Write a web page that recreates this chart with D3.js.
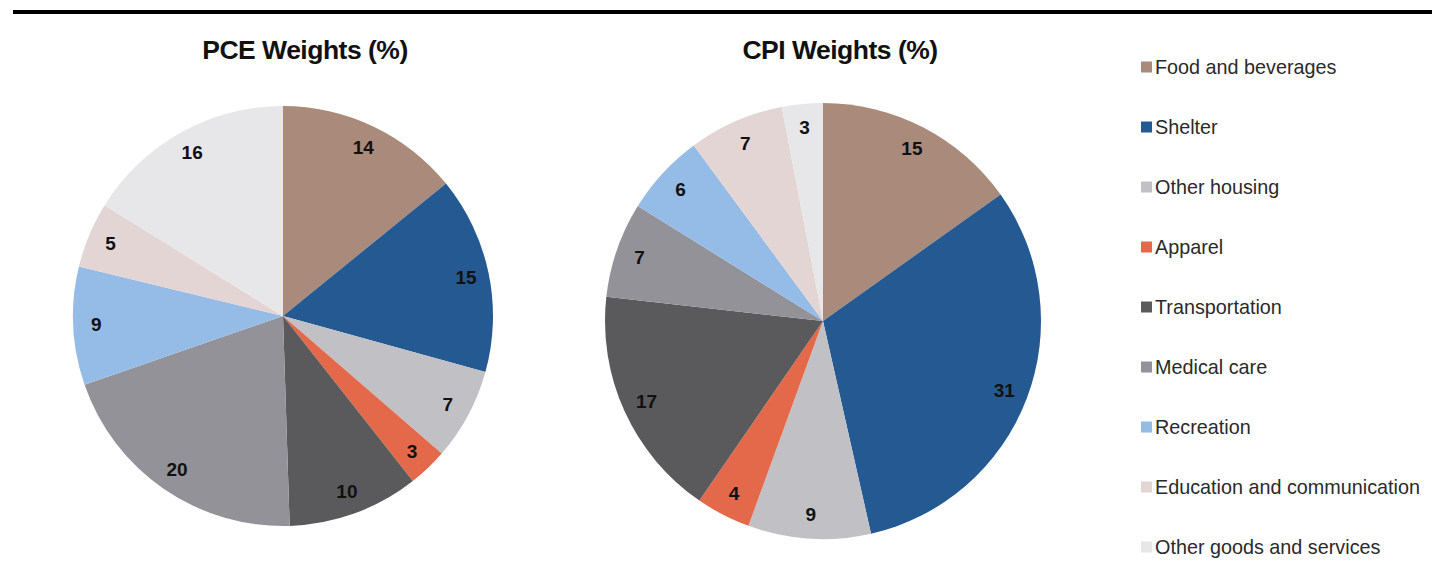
<!DOCTYPE html>
<html>
<head>
<meta charset="utf-8">
<script src="https://cdn.jsdelivr.net/npm/d3@7"></script>
<style>
  html, body { margin: 0; padding: 0; background: #fff; }
  svg { display: block; }
</style>
</head>
<body>
<svg id="chart" width="1432" height="582"></svg>
<script>
// Expenditure categories shared by both indexes
const categories = [
  "Food and beverages",
  "Shelter",
  "Other housing",
  "Apparel",
  "Transportation",
  "Medical care",
  "Recreation",
  "Education and communication",
  "Other goods and services"
];

// Weights in percent
const pceWeights = [14, 15, 7, 3, 10, 20, 9, 5, 16];
const cpiWeights = [15, 31, 9, 4, 17, 7, 6, 7, 3];

const chartTitles = ["PCE Weights (%)", "CPI Weights (%)"];

const palette = [
  "#a98a7b", "#245a91", "#c1c1c5", "#e4694a", "#5a5a5c",
  "#929298", "#94bce6", "#e4d5d5", "#e7e7ea"
];

const svg = d3.select("#chart");
const color = d3.scaleOrdinal().domain(categories).range(palette);

// Rule across the top
svg.append("line")
  .attr("x1", 13).attr("x2", 1432)
  .attr("y1", 12).attr("y2", 12)
  .attr("stroke", "#000").attr("stroke-width", 4);

const pie = d3.pie().sort(null).value(d => d.value);

function drawPie(values, title, cx, cy, r, titleX) {
  const data = categories.map((c, i) => ({ category: c, value: values[i] }));
  const arcs = pie(data);
  const arc = d3.arc().innerRadius(0).outerRadius(r);
  const labelArc = d3.arc().innerRadius(r * 0.89).outerRadius(r * 0.89);

  const g = svg.append("g").attr("transform", `translate(${cx},${cy})`);
  g.selectAll("path.slice")
    .data(arcs)
    .join("path")
    .attr("class", "slice")
    .attr("d", arc)
    .attr("fill", d => color(d.data.category));

  g.selectAll("text.val")
    .data(arcs)
    .join("text")
    .attr("class", "val")
    .attr("transform", d => `translate(${labelArc.centroid(d)})`)
    .attr("text-anchor", "middle")
    .attr("dominant-baseline", "central")
    .attr("font-family", "'Liberation Sans', Arial, sans-serif")
    .attr("font-weight", "bold")
    .attr("font-size", 19)
    .attr("fill", "#111")
    .text(d => d.data.value);

  svg.append("text")
    .attr("x", titleX).attr("y", 59)
    .attr("text-anchor", "middle")
    .attr("font-family", "'Liberation Sans', Arial, sans-serif")
    .attr("font-weight", "bold")
    .attr("font-size", 26.5)
    .attr("letter-spacing", -0.5)
    .attr("fill", "#111")
    .text(title);
}

drawPie(pceWeights, chartTitles[0], 283, 316, 210, 305);
drawPie(cpiWeights, chartTitles[1], 823, 321, 218, 840);

// Legend
const legendY = d3.scalePoint().domain(categories).range([67, 547]);
const legend = svg.append("g");
const items = legend.selectAll("g.item")
  .data(categories)
  .join("g")
  .attr("class", "item")
  .attr("transform", d => `translate(1141,${legendY(d)})`);

items.append("rect")
  .attr("x", 0).attr("y", -5.5)
  .attr("width", 11).attr("height", 11)
  .attr("fill", d => color(d));

items.append("text")
  .attr("x", 14).attr("y", 0)
  .attr("dominant-baseline", "central")
  .attr("font-family", "'Liberation Sans', Arial, sans-serif")
  .attr("font-size", 19.8)
  .attr("fill", "#2a2a2a")
  .text(d => d);
</script>
</body>
</html>
